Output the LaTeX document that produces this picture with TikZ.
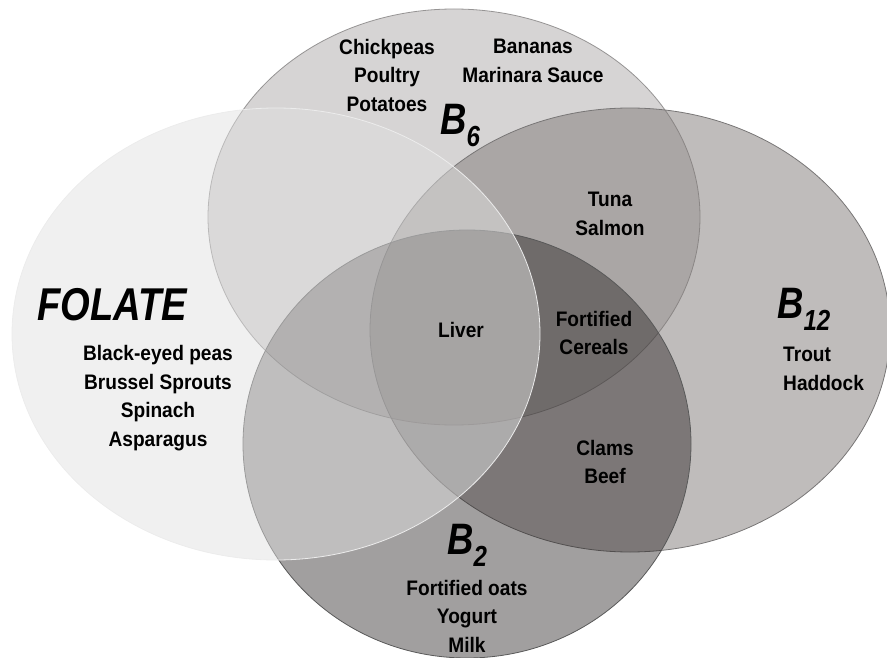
\documentclass[tikz,border=0pt]{standalone}
\usepackage{fontspec}
\setmainfont{Liberation Sans}
\newfontfamily\vitfont[FakeStretch=0.83]{Liberation Sans}
\newfontfamily\foodfont[FakeStretch=0.91]{Liberation Sans}
\newcommand{\vitname}[2]{{\vitfont\bfseries\itshape\fontsize{44}{44}\selectfont #1\raisebox{-12pt}{\fontsize{29}{29}\selectfont #2}}}
\definecolor{b6fill}{RGB}{214,212,212}
\definecolor{b12fill}{RGB}{127,121,119}
\definecolor{b2fill}{RGB}{31,26,26}
\definecolor{folfill}{RGB}{224,224,224}
\definecolor{ringline}{RGB}{150,148,148}
\begin{document}
\begin{tikzpicture}
[x=1pt,y=-1pt,
 ring/.style={line width=0.8pt},
 food/.style={font=\foodfont\bfseries\fontsize{21}{28.5}\selectfont,align=center,inner sep=0pt,text=black},
 vit/.style={inner sep=0pt,anchor=base west}]
\useasboundingbox (0,0) rectangle (887,658);
% the four sets
\filldraw[ring,fill=b6fill,draw=ringline] (454,217) ellipse [x radius=246pt,y radius=208pt];
\filldraw[ring,fill=b12fill,fill opacity=0.5,draw=ringline!80!black] (630,330) ellipse [x radius=260pt,y radius=222pt];
\filldraw[ring,fill=b2fill,fill opacity=0.42,draw=black!65] (467,444) ellipse [x radius=224pt,y radius=214pt];
\filldraw[ring,fill=folfill,fill opacity=0.49,draw=white!85!gray] (276,334) ellipse [x radius=264pt,y radius=226pt];
% set names
\node[vit] (folate) at (37,320) {\vitfont\bfseries\itshape\fontsize{46}{46}\selectfont FOLATE};
\node[vit] (b6) at (440,135) {\vitname{B}{6}};
\node[vit] (b12) at (777,318) {\vitname{B}{12}};
\node[vit] (b2) at (447,554) {\vitname{B}{2}};
% foods
\node[food] (chick) at (387,75) {Chickpeas\\Poultry\\Potatoes};
\node[food] (banana) at (533,61) {Bananas\\Marinara Sauce};
\node[food] (tuna) at (610,214) {Tuna\\Salmon};
\node[food] (peas) at (158,398) {Black-eyed peas\\Brussel Sprouts\\Spinach\\Asparagus};
\node[food] (liver) at (461,330) {Liver};
\node[food] (cereal) at (594,333) {Fortified\\Cereals};
\node[food,align=left,anchor=west] (trout) at (783,369) {Trout\\Haddock};
\node[food] (clams) at (605,462) {Clams\\Beef};
\node[food] (oats) at (467,616) {Fortified oats\\Yogurt\\Milk};
\end{tikzpicture}
\end{document}
